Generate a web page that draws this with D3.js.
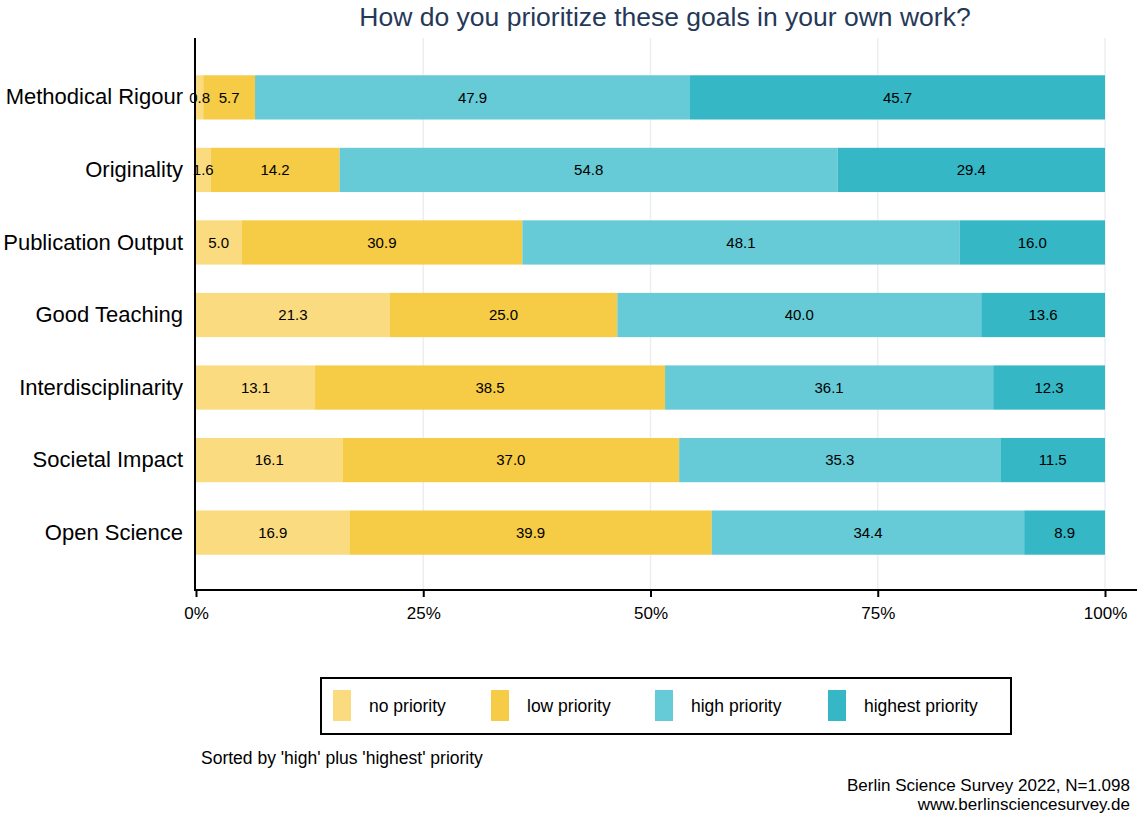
<!DOCTYPE html>
<html>
<head>
<meta charset="utf-8">
<script src="https://cdn.jsdelivr.net/npm/d3@7"></script>
<style>
  html, body { margin: 0; padding: 0; background: #fff; }
  svg { display: block; font-family: "Liberation Sans", Arial, Helvetica, sans-serif; }
</style>
</head>
<body>
<svg id="chart" width="1137" height="814"></svg>
<script>
// Survey goals, top to bottom (sorted by high + highest priority)
const goals = ["Methodical Rigour", "Originality", "Publication Output", "Good Teaching",
               "Interdisciplinarity", "Societal Impact", "Open Science"];
const levels = ["no priority", "low priority", "high priority", "highest priority"];
const noPriority      = [0.8, 1.6, 5.0, 21.3, 13.1, 16.1, 16.9];
const lowPriority     = [5.7, 14.2, 30.9, 25.0, 38.5, 37.0, 39.9];
const highPriority    = [47.9, 54.8, 48.1, 40.0, 36.1, 35.3, 34.4];
const highestPriority = [45.7, 29.4, 16.0, 13.6, 12.3, 11.5, 8.9];
const tickValues = [0, 0.25, 0.5, 0.75, 1];
const tickLabels = ["0%", "25%", "50%", "75%", "100%"];
const colors = ["#FADB7F", "#F6CB45", "#66CBD6", "#35B7C6"];

const rows = goals.map((g, i) => ({
  goal: g,
  "no priority": noPriority[i],
  "low priority": lowPriority[i],
  "high priority": highPriority[i],
  "highest priority": highestPriority[i]
}));

const svg = d3.select("#chart");
const plot = { left: 196, right: 1105, top: 38, bottom: 590 };

const x = d3.scaleLinear().domain([0, 1]).range([plot.left, plot.right]);
const y = d3.scaleBand().domain(goals).range([plot.top + 1, plot.bottom + 1])
  .paddingInner(0.39).paddingOuter(0.5);
const color = d3.scaleOrdinal().domain(levels).range(colors);

// shares of each row, stacked to fill 100%
const series = d3.stack().keys(levels).offset(d3.stackOffsetExpand)(rows);

// vertical grid lines
svg.append("g").selectAll("line").data(tickValues.slice(1)).join("line")
  .attr("x1", d => x(d)).attr("x2", d => x(d))
  .attr("y1", plot.top).attr("y2", plot.bottom)
  .attr("stroke", "#ebeef2").attr("stroke-width", 1.5);

// stacked bars
const layer = svg.append("g").selectAll("g").data(series).join("g")
  .attr("fill", d => color(d.key));
layer.selectAll("rect").data(d => d).join("rect")
  .attr("x", d => x(d[0]))
  .attr("y", d => y(d.data.goal))
  .attr("width", d => x(d[1]) - x(d[0]))
  .attr("height", y.bandwidth());

// value labels centred in each segment
const labels = svg.append("g").attr("font-size", 15).attr("fill", "#000").attr("text-anchor", "middle");
series.forEach(s => {
  s.forEach(d => {
    labels.append("text")
      .attr("x", (x(d[0]) + x(d[1])) / 2)
      .attr("y", y(d.data.goal) + y.bandwidth() / 2)
      .attr("dy", "0.36em")
      .text(d3.format(".1f")(d.data[s.key]));
  });
});

// x axis
const xAxis = svg.append("g").attr("transform", `translate(0,${plot.bottom})`)
  .call(d3.axisBottom(x).tickValues(tickValues).tickFormat((d, i) => tickLabels[i]).tickSize(7).tickPadding(10));
xAxis.select(".domain").remove();
xAxis.selectAll(".tick line").attr("stroke", "#000").attr("stroke-width", 2);
xAxis.selectAll(".tick text").attr("font-size", 17).attr("fill", "#000")
  .attr("font-family", "Liberation Sans, Arial, sans-serif");
svg.append("line").attr("x1", plot.left - 2).attr("x2", 1137)
  .attr("y1", plot.bottom).attr("y2", plot.bottom).attr("stroke", "#000").attr("stroke-width", 2);

// y axis
const yAxis = svg.append("g").attr("transform", `translate(${plot.left - 1},0)`)
  .call(d3.axisLeft(y).tickSize(0).tickPadding(12));
yAxis.select(".domain").remove();
yAxis.selectAll(".tick text").attr("font-size", 22).attr("fill", "#000")
  .attr("font-family", "Liberation Sans, Arial, sans-serif");
svg.append("line").attr("x1", plot.left - 1).attr("x2", plot.left - 1)
  .attr("y1", plot.top).attr("y2", plot.bottom + 1).attr("stroke", "#000").attr("stroke-width", 2);

// title
svg.append("text").attr("x", 665).attr("y", 26).attr("text-anchor", "middle")
  .attr("font-size", 26.5).attr("fill", "#253858")
  .text("How do you prioritize these goals in your own work?");

// legend
const legend = svg.append("g");
legend.append("rect").attr("x", 321).attr("y", 678).attr("width", 690).attr("height", 56)
  .attr("fill", "#fff").attr("stroke", "#000").attr("stroke-width", 2);
const legendX = [333, 491, 655, 828];
levels.forEach((lv, i) => {
  legend.append("rect").attr("x", legendX[i]).attr("y", 690).attr("width", 18).attr("height", 31)
    .attr("fill", color(lv));
  legend.append("text").attr("x", legendX[i] + 36).attr("y", 706).attr("dy", "0.36em")
    .attr("font-size", 17.5).attr("fill", "#000").text(lv);
});

// captions
svg.append("text").attr("x", 201).attr("y", 764).attr("font-size", 17.5).attr("fill", "#000")
  .text("Sorted by 'high' plus 'highest' priority");
svg.append("text").attr("x", 1130).attr("y", 791).attr("text-anchor", "end").attr("font-size", 17).attr("fill", "#000")
  .text("Berlin Science Survey 2022, N=1.098");
svg.append("text").attr("x", 1130).attr("y", 810).attr("text-anchor", "end").attr("font-size", 17).attr("fill", "#000")
  .text("www.berlinsciencesurvey.de");
</script>
</body>
</html>
